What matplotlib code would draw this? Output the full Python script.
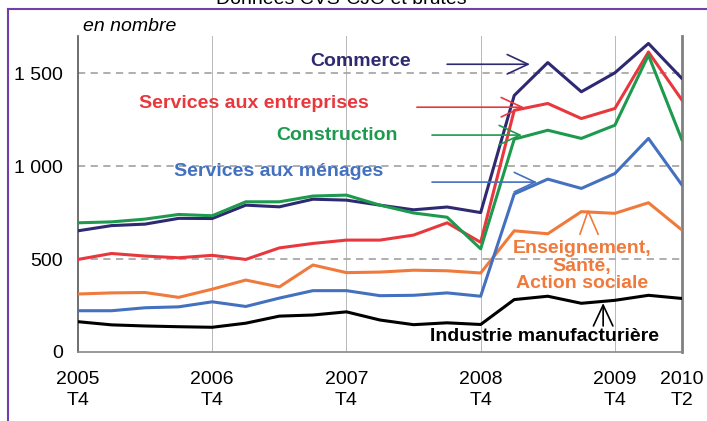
import matplotlib
matplotlib.use("Agg")
import matplotlib.pyplot as plt
from matplotlib.lines import Line2D

# quarterly data, 2005 T4 -> 2010 T2
quarters = list(range(19))
tick_pos = [0, 4, 8, 12, 16, 18]
tick_labels = ["2005\nT4", "2006\nT4", "2007\nT4", "2008\nT4", "2009\nT4", "2010\nT2"]

commerce = [652, 680, 688, 719, 718, 790, 781, 822, 817, 790, 765, 780,
            750, 1380, 1557, 1400, 1502, 1660, 1471]
services_entreprises = [498, 530, 516, 507, 520, 498, 560, 584, 602, 602, 629, 695,
                        590, 1300, 1337, 1256, 1310, 1614, 1355]
construction = [695, 700, 715, 740, 733, 808, 808, 839, 844, 790, 748, 725,
                555, 1145, 1193, 1149, 1220, 1597, 1140]
services_menages = [222, 222, 238, 243, 270, 245, 290, 330, 330, 303, 305, 318,
                    300, 850, 930, 880, 960, 1149, 898]
enseignement = [312, 318, 320, 294, 338, 387, 350, 468, 427, 430, 440, 437,
                425, 652, 636, 755, 746, 803, 656]
industrie = [163, 146, 140, 136, 133, 155, 193, 199, 216, 172, 147, 157,
             148, 282, 300, 262, 278, 305, 288]

NAVY = "#2E2A72"
RED = "#E8383D"
GREEN = "#1E9A4F"
BLUE = "#4470C0"
ORANGE = "#EF7A3C"

plt.rcParams['font.family'] = ['Liberation Sans', 'DejaVu Sans']
FS = 14

W, H = 707, 421
fig = plt.figure(figsize=(W / 100, H / 100), dpi=100)
ax = fig.add_axes([78 / W, 1 - 352 / H, (682 - 78) / W, (352 - 36) / H])

# grid
for x in tick_pos[1:-1]:
    ax.axvline(x, color="#b8b8b8", lw=0.7, zorder=1)
for y in [500, 1000, 1500]:
    ax.axhline(y, color="#a8a8a8", lw=1.3, ls=(0, (4, 3)), zorder=1)

lw = 2.2
series = [(industrie, "black"), (enseignement, ORANGE), (services_menages, BLUE),
          (commerce, NAVY), (services_entreprises, RED), (construction, GREEN)]
for vals, c in series:
    ax.plot(quarters, vals, color=c, lw=lw, zorder=3,
            solid_joinstyle="round", solid_capstyle="round")

ax.set_xlim(0, 18)
ax.set_ylim(0, 1700)
ax.set_yticks([0, 500, 1000, 1500])
ax.set_yticklabels(["0", "500", "1 000", "1 500"])
ax.set_xticks(tick_pos)
ax.set_xticklabels(tick_labels)
ax.tick_params(axis="x", length=0, pad=14, labelsize=FS)
ax.tick_params(axis="y", length=0, pad=11, labelsize=FS)
for lbl in ax.get_xticklabels():
    lbl.set_linespacing(1.3)

ax.spines["top"].set_visible(False)
ax.spines["left"].set_color("#555555")
ax.spines["left"].set_linewidth(1.2)
ax.spines["bottom"].set_color("#888888")
ax.spines["bottom"].set_linewidth(1.2)
ax.spines["right"].set_color("#808080")
ax.spines["right"].set_linewidth(2)

# labels
ax.text(0.15, 1753, "en nombre", fontsize=FS, style="italic", va="center", ha="left")
ax.text(8.43, 1564, "Commerce", color=NAVY, fontsize=FS, weight="bold", ha="center", va="center")
ax.text(5.245, 1339, "Services aux entreprises", color=RED, fontsize=FS, weight="bold",
        ha="center", va="center")
ax.text(7.73, 1167, "Construction", color=GREEN, fontsize=FS, weight="bold", ha="center", va="center")
ax.text(5.99, 973, "Services aux ménages", color=BLUE, fontsize=FS, weight="bold",
        ha="center", va="center")
ax.text(15.02, 462, "Enseignement,\nSanté,\nAction sociale", color=ORANGE, fontsize=FS,
        weight="bold", ha="center", va="center", linespacing=1.05)
ax.text(13.89, 81, "Industrie manufacturière", color="black", fontsize=FS, weight="bold",
        ha="center", va="center")

# arrows
arrow_style = "->,head_length=1.5,head_width=0.7"
for (x0, x1, y, c) in [(11.0, 13.47, 1548, NAVY), (10.10, 13.29, 1317, RED),
                       (10.55, 13.23, 1167, GREEN), (10.55, 13.68, 914, BLUE)]:
    ax.annotate("", xy=(x1, y), xytext=(x0, y),
                arrowprops=dict(arrowstyle=arrow_style, color=c, lw=1.2,
                                mutation_scale=10, shrinkA=0, shrinkB=0))

ax.plot([14.96, 15.2, 15.5], [634, 758, 634], color=ORANGE, lw=1.2, zorder=4)
ax.annotate("", xy=(15.65, 263), xytext=(15.65, 140),
            arrowprops=dict(arrowstyle=arrow_style, color="black", lw=1.2,
                            mutation_scale=10, shrinkA=0, shrinkB=0))

# title (cut off at the top, as in the source) and frame
fig.text(341 / W, 1 - 4 / H, "Données CVS-CJO et brutes", fontsize=FS, ha="center", va="baseline")
fig.add_artist(Line2D([8 / W, 1], [1 - 9 / H, 1 - 9 / H], color="#7040A8", lw=1.5))
fig.add_artist(Line2D([8 / W, 8 / W], [0, 1 - 9 / H], color="#7040A8", lw=1.5))

fig.savefig("out.png", dpi=100)
